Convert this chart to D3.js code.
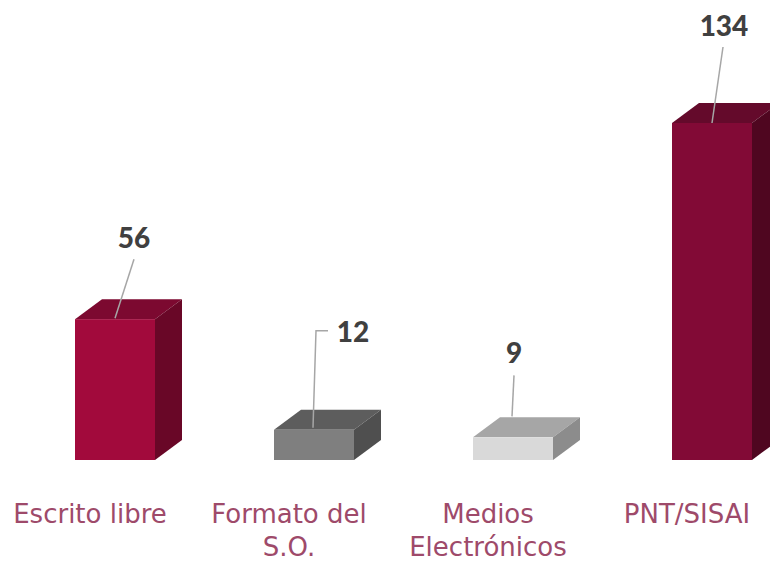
<!DOCTYPE html>
<html>
<head>
<meta charset="utf-8">
<script src="https://cdn.jsdelivr.net/npm/d3@7"></script>
<style>
  html, body { margin: 0; padding: 0; background: #fff; }
  svg { display: block; }
</style>
</head>
<body>
<div id="chart"></div>
<script>
var width = 770;
var height = 562;

// data
var categories = ["Escrito libre", "Formato del S.O.", "Medios Electrónicos", "PNT/SISAI"];
var values = [56, 12, 9, 134];
var labelLines = [["Escrito libre"], ["Formato del", "S.O."], ["Medios", "Electrónicos"], ["PNT/SISAI"]];

// styling
var frontColors = ["#a20a3c", "#7f7f7f", "#d9d9d9", "#820a36"];
var topColors   = ["#7c0930", "#5d5d5d", "#a6a6a6", "#640a2b"];
var sideColors  = ["#690727", "#4f4f4f", "#8c8c8c", "#4f0620"];
var depthX = 27, depthY = 20;

// label offsets (relative to bar centre / bar top)
var labelPos = [[19, -71], [39, -88], [1, -74], [12, -87]];
var leaders = [
    [[19, -60], [0, -1]],
    [[14, -99], [2, -99], [-1, -2]],
    [[1, -62], [-1, -21]],
    [[11, -76], [0, 0]]
];

var svg = d3.select("#chart")
            .append("svg")
            .attr("width", width)
            .attr("height", height);

var x = d3.scaleBand()
    .domain(categories)
    .range([75, 752])
    .paddingInner(119 / 199)
    .paddingOuter(0);

var y = d3.scaleLinear()
    .domain([0, 134])
    .range([460, 123]);

var bw = x.bandwidth();

var bars = svg.selectAll("g.bar")
    .data(categories)
    .enter()
    .append("g")
    .attr("class", "bar");

// top face
bars.append("polygon")
    .attr("fill", function(d, i) { return topColors[i]; })
    .attr("points", function(d, i) {
        var x0 = x(d), yt = y(values[i]);
        return [[x0, yt], [x0 + depthX, yt - depthY], [x0 + bw + depthX, yt - depthY], [x0 + bw, yt]].join(" ");
    });

// side face
bars.append("polygon")
    .attr("fill", function(d, i) { return sideColors[i]; })
    .attr("points", function(d, i) {
        var x1 = x(d) + bw, yt = y(values[i]), yb = y(0);
        return [[x1, yt], [x1 + depthX, yt - depthY], [x1 + depthX, yb - depthY], [x1, yb]].join(" ");
    });

// front face
bars.append("rect")
    .attr("fill", function(d, i) { return frontColors[i]; })
    .attr("x", function(d) { return x(d); })
    .attr("y", function(d, i) { return y(values[i]); })
    .attr("width", bw)
    .attr("height", function(d, i) { return y(0) - y(values[i]); });

// leader lines
bars.append("polyline")
    .attr("fill", "none")
    .attr("stroke", "#a6a6a6")
    .attr("stroke-width", 1.5)
    .attr("points", function(d, i) {
        var cx = x(d) + bw / 2, yt = y(values[i]);
        return leaders[i].map(function(p) { return [cx + p[0], yt + p[1]]; }).join(" ");
    });

// value labels
bars.append("text")
    .attr("x", function(d, i) { return x(d) + bw / 2 + labelPos[i][0]; })
    .attr("y", function(d, i) { return y(values[i]) + labelPos[i][1]; })
    .attr("text-anchor", "middle")
    .style("font-family", "Lato, 'DejaVu Sans', sans-serif")
    .style("font-weight", "900")
    .style("font-size", "28px")
    .style("fill", "#404040")
    .text(function(d, i) { return values[i]; });

// category labels
var cat = svg.selectAll("text.cat")
    .data(categories)
    .enter()
    .append("text")
    .attr("class", "cat")
    .attr("text-anchor", "middle")
    .style("font-family", "'DejaVu Sans', sans-serif")
    .style("font-size", "26px")
    .style("fill", "#9e4a6a")
    .attr("transform", function(d) { return "translate(" + (x(d) + bw / 2 - 25) + ",523)"; });

cat.selectAll("tspan")
    .data(function(d, i) { return labelLines[i]; })
    .enter()
    .append("tspan")
    .attr("x", 0)
    .attr("y", function(d, j) { return j * 33; })
    .text(function(d) { return d; });
</script>
</body>
</html>
